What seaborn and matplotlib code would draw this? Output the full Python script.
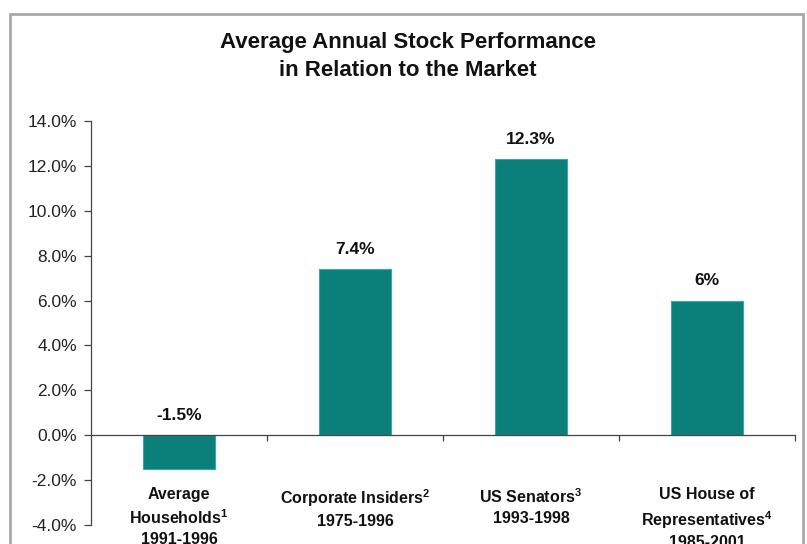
import numpy as np
import pandas as pd
import seaborn as sb
import matplotlib
matplotlib.use('Agg')
import matplotlib.pyplot as plt
from matplotlib.patches import Rectangle

groups = ['Average\nHouseholds$^{1}$\n1991-1996',
          'Corporate Insiders$^{2}$\n1975-1996',
          'US Senators$^{3}$\n1993-1998',
          'US House of\nRepresentatives$^{4}$\n1985-2001']
returns = [-1.5, 7.4, 12.3, 6.0]
value_labels = ['-1.5%', '7.4%', '12.3%', '6%']
y_ticks = [-4, -2, 0, 2, 4, 6, 8, 10, 12, 14]

sb.set_style('white')
plt.rcParams['font.family'] = ['Liberation Sans', 'DejaVu Sans']
plt.rcParams['mathtext.fontset'] = 'custom'
plt.rcParams['mathtext.rm'] = 'Liberation Sans:bold'
plt.rcParams['mathtext.it'] = 'Liberation Sans:bold'

df = pd.DataFrame({'group': groups, 'ret': returns})

fig = plt.figure(figsize=(8.07, 5.44), dpi=100)
ax = fig.add_axes([91/807, 19/544, (795-91)/807, (525-121)/544])

sb.barplot(data=df, x='group', y='ret', color='#0b807b', width=0.41,
           edgecolor='#3aa8a2', linewidth=0.8, saturation=1, ax=ax)

ax.set_xlim(-0.5, 3.5)
ax.set_ylim(-4, 14)
ax.set_yticks(y_ticks)
ax.set_yticklabels([f'{t:.1f}%' for t in y_ticks], fontsize=12.5, color='#222222')
ax.set_xlabel('')
ax.set_ylabel('')

for s in ['top', 'right']:
    ax.spines[s].set_visible(False)
ax.spines['left'].set_color('#444444')
ax.spines['left'].set_linewidth(0.9)
ax.spines['bottom'].set_position(('data', 0))
ax.spines['bottom'].set_color('#444444')
ax.spines['bottom'].set_linewidth(0.9)

ax.tick_params(axis='y', left=True, length=5, width=0.9, color='#444444', pad=5)
# category labels sit well below the zero line, ticks between the bars
ax.set_xticks([0.5, 1.5, 2.5, 3.5], minor=True)
ax.tick_params(axis='x', which='major', bottom=False, pad=34, labelsize=11.5)
ax.tick_params(axis='x', which='minor', bottom=True, length=4, width=0.9, color='#444444')
for lab in ax.get_xticklabels():
    lab.set_fontweight('bold')
    lab.set_color('#111111')
    lab.set_linespacing(1.4)

for i, (v, txt) in enumerate(zip(returns, value_labels)):
    ax.text(i, max(v, 0) + 0.55, txt, ha='center', va='bottom',
            fontsize=12.5, fontweight='bold', color='#111111')

fig.text(0.505, 0.896, 'Average Annual Stock Performance\nin Relation to the Market',
         ha='center', va='center', fontsize=16, fontweight='bold',
         color='#111111', linespacing=1.4)

fig.patches.append(Rectangle((10/807, -0.05), (803-10)/807, 1.05 - 14/544,
                             transform=fig.transFigure, fill=False,
                             edgecolor='#a8a8a8', linewidth=2))

fig.savefig('out.png', dpi=100)
